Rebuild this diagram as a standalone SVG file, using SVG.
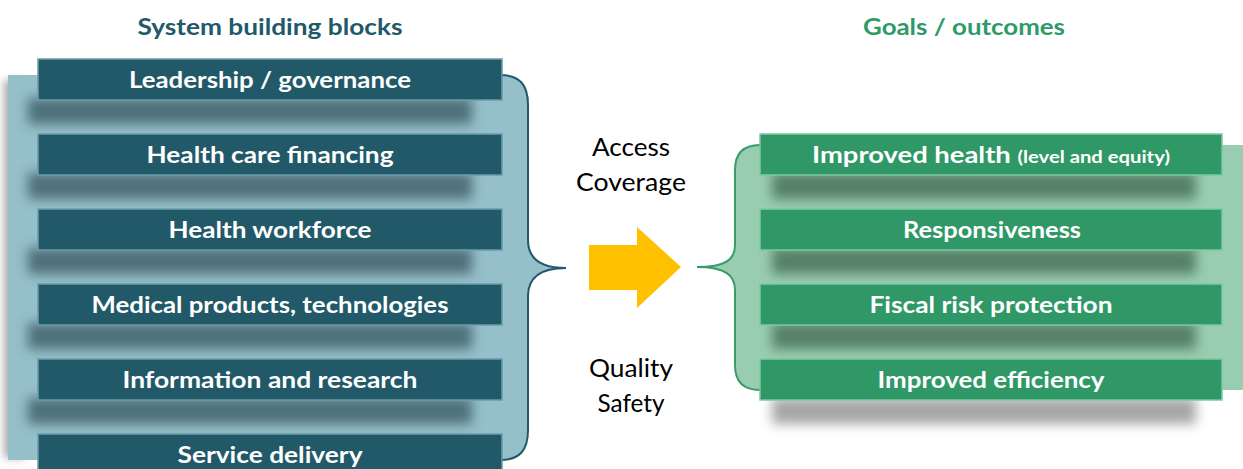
<svg xmlns="http://www.w3.org/2000/svg" width="1243" height="469" viewBox="0 0 1243 469">
<defs>
<style>
.title{font-family:Lato,"Open Sans","Liberation Sans",sans-serif;font-weight:bold;font-size:22px;text-anchor:middle}
.bl{fill:#215968;stroke:#6A9DAB;stroke-width:1.5}
.gr{fill:#2F9866;stroke:#7CC9A1;stroke-width:1.5}
.lbl{font-family:Lato,"Open Sans","Liberation Sans",sans-serif;font-weight:bold;font-size:23px;fill:#fff;text-anchor:middle}
.mid{font-family:Lato,"Open Sans","Liberation Sans",sans-serif;font-size:25px;fill:#000;text-anchor:middle}
.shL{fill:#3D5D66;opacity:0.8}
.shR{fill:#3F6650;opacity:0.75}
</style>
<filter id="blur" x="-20%" y="-100%" width="140%" height="300%"><feGaussianBlur stdDeviation="6"/></filter>
<filter id="blur2" x="-20%" y="-20%" width="140%" height="140%"><feGaussianBlur stdDeviation="4"/></filter>
</defs>
<rect width="1243" height="469" fill="#fff"/>
<text class="title" x="270" y="35" fill="#215968" textLength="265" lengthAdjust="spacingAndGlyphs">System building blocks</text>
<text class="title" x="964" y="35" fill="#2E9A68" textLength="202" lengthAdjust="spacingAndGlyphs">Goals / outcomes</text>
<g id="left-panel">
<rect x="4" y="80" width="20" height="378" fill="#555" opacity="0.5" filter="url(#blur2)"/>
<path d="M8 75 H500 C520 75 528 85 528 105 V240 C528 258 540 268 566 268 C540 268 528 278 528 296 V430 C528 450 520 460 500 460 H8 Z" fill="#95BFC9"/>
<path d="M500 75 C520 75 528 85 528 105 V240 C528 258 540 268 566 268 C540 268 528 278 528 296 V430 C528 450 520 460 500 460" fill="none" stroke="#1F5A6A" stroke-width="2"/>
<rect class="shL" x="28" y="98" width="444" height="26" filter="url(#blur)"/>
<rect class="shL" x="28" y="173" width="444" height="26" filter="url(#blur)"/>
<rect class="shL" x="28" y="248" width="444" height="26" filter="url(#blur)"/>
<rect class="shL" x="28" y="323" width="444" height="26" filter="url(#blur)"/>
<rect class="shL" x="28" y="398" width="444" height="26" filter="url(#blur)"/>
</g>
<g id="right-panel">
<path d="M760 145 C742 145 735 155 735 170 V245 C735 260 725 267 697 267 C725 267 735 275 735 290 V365 C735 380 742 390 760 390 H1243 V145 Z" fill="#99CDB2"/>
<path d="M760 145 C742 145 735 155 735 170 V245 C735 260 725 267 697 267 C725 267 735 275 735 290 V365 C735 380 742 390 760 390" fill="none" stroke="#3A9A6A" stroke-width="2"/>
<rect class="shR" x="772" y="173" width="424" height="26" filter="url(#blur)"/>
<rect class="shR" x="772" y="248" width="424" height="26" filter="url(#blur)"/>
<rect class="shR" x="772" y="323" width="424" height="26" filter="url(#blur)"/>
<rect x="772" y="398" width="424" height="26" fill="#888" opacity="0.75" filter="url(#blur)"/>
</g>
<g id="node-leadership"><rect class="bl" x="38" y="59" width="464" height="41"/><text class="lbl" x="270" y="88" textLength="282" lengthAdjust="spacingAndGlyphs">Leadership / governance</text></g>
<g id="node-financing"><rect class="bl" x="38" y="134" width="464" height="41"/><text class="lbl" x="270" y="163" textLength="247" lengthAdjust="spacingAndGlyphs">Health care financing</text></g>
<g id="node-workforce"><rect class="bl" x="38" y="209" width="464" height="41"/><text class="lbl" x="270" y="238" textLength="203" lengthAdjust="spacingAndGlyphs">Health workforce</text></g>
<g id="node-medical"><rect class="bl" x="38" y="284" width="464" height="41"/><text class="lbl" x="270" y="313" textLength="357" lengthAdjust="spacingAndGlyphs">Medical products, technologies</text></g>
<g id="node-information"><rect class="bl" x="38" y="359" width="464" height="41"/><text class="lbl" x="270" y="388" textLength="295" lengthAdjust="spacingAndGlyphs">Information and research</text></g>
<g id="node-service"><rect class="bl" x="38" y="434" width="464" height="41"/><text class="lbl" x="270" y="463" textLength="185" lengthAdjust="spacingAndGlyphs">Service delivery</text></g>
<g id="node-health"><rect class="gr" x="760" y="134" width="462" height="41"/><text class="lbl" x="991" y="163" textLength="358" lengthAdjust="spacingAndGlyphs">Improved health <tspan font-size="17">(level and equity)</tspan></text></g>
<g id="node-responsiveness"><rect class="gr" x="760" y="209" width="462" height="41"/><text class="lbl" x="992" y="238" textLength="178" lengthAdjust="spacingAndGlyphs">Responsiveness</text></g>
<g id="node-fiscal"><rect class="gr" x="760" y="284" width="462" height="41"/><text class="lbl" x="991" y="313" textLength="243" lengthAdjust="spacingAndGlyphs">Fiscal risk protection</text></g>
<g id="node-efficiency"><rect class="gr" x="760" y="359" width="462" height="41"/><text class="lbl" x="991" y="388" textLength="227" lengthAdjust="spacingAndGlyphs">Improved efficiency</text></g>
<g id="connectors">
<polygon points="589,245 637,245 637,227 681,267 637,308 637,290 589,290" fill="#FFC000"/>
</g>
<text class="mid" x="631" y="156" textLength="78" lengthAdjust="spacingAndGlyphs">Access</text>
<text class="mid" x="631" y="191" textLength="110" lengthAdjust="spacingAndGlyphs">Coverage</text>
<text class="mid" x="631" y="377" textLength="84" lengthAdjust="spacingAndGlyphs">Quality</text>
<text class="mid" x="631" y="412" textLength="67" lengthAdjust="spacingAndGlyphs">Safety</text>
</svg>
